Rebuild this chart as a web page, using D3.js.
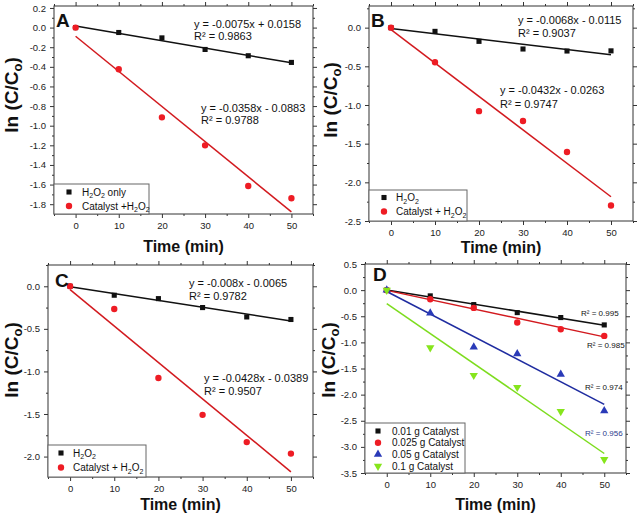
<!DOCTYPE html>
<html>
<head>
<meta charset="utf-8">
<script src="https://cdn.jsdelivr.net/npm/d3@7"></script>
<style>
  html, body { margin: 0; padding: 0; background: #fff; }
  svg { display: block; }
</style>
</head>
<body>
<script>
// ---------------- DATA ----------------
const timeMin = [0, 10, 20, 30, 40, 50];
const xTicks = [0, 10, 20, 30, 40, 50];

// Panel A
const panelA_H2O2 = [0.0, -0.05, -0.105, -0.223, -0.287, -0.355];
const panelA_Catalyst = [0.0, -0.425, -0.915, -1.20, -1.615, -1.74];
const fitSlopeA = [-0.0075, -0.0358];
const fitInterceptA = [0.0158, -0.0883];
const eqTextA = ["y = -0.0075x + 0.0158", "R² = 0.9863", "y = -0.0358x - 0.0883", "R² = 0.9788"];
const yTicksA = [0.2, 0.0, -0.2, -0.4, -0.6, -0.8, -1.0, -1.2, -1.4, -1.6, -1.8];

// Panel B
const panelB_H2O2 = [0.0, -0.048, -0.177, -0.276, -0.302, -0.30];
const panelB_Catalyst = [0.0, -0.448, -1.08, -1.207, -1.607, -2.30];
const fitSlopeB = [-0.0068, -0.0432];
const fitInterceptB = [-0.0115, -0.0263];
const eqTextB = ["y = -0.0068x - 0.0115", "R² = 0.9037", "y = -0.0432x - 0.0263", "R² = 0.9747"];
const yTicksB = [0.0, -0.5, -1.0, -1.5, -2.0, -2.5];

// Panel C
const panelC_H2O2 = [0.0, -0.105, -0.145, -0.25, -0.36, -0.39];
const panelC_Catalyst = [0.0, -0.266, -1.078, -1.51, -1.83, -1.965];
const fitSlopeC = [-0.008, -0.0428];
const fitInterceptC = [-0.0065, -0.0389];
const eqTextC = ["y = -0.008x - 0.0065", "R² = 0.9782", "y = -0.0428x - 0.0389", "R² = 0.9507"];
const yTicksC = [0.0, -0.5, -1.0, -1.5, -2.0];

// Panel D
const panelD_001 = [0.0, -0.11, -0.277, -0.43, -0.525, -0.666];
const panelD_0025 = [0.0, -0.175, -0.34, -0.62, -0.75, -0.876];
const panelD_005 = [0.0, -0.44, -1.09, -1.22, -1.61, -2.31];
const panelD_01 = [0.0, -1.10, -1.63, -1.86, -2.32, -3.24];
const fitSlopeD = [-0.0135, -0.0178, -0.0432, -0.0574];
const fitInterceptD = [0.003, -0.005, -0.0263, -0.2567];
const r2TextD = ["R² = 0.995", "R² = 0.985", "R² = 0.974", "R² = 0.956"];
const legendD = ["0.01 g Catalyst", "0.025 g Catalyst", "0.05 g Catalyst", "0.1 g Catalyst"];
const yTicksD = [0.5, 0.0, -0.5, -1.0, -1.5, -2.0, -2.5, -3.0, -3.5];

// ---------------- STYLE ----------------
const FONT = "Arial, 'Liberation Sans', Helvetica, sans-serif";
const C_BLACK = "#111111";
const C_RED_PT = "#ee1c24";
const C_RED_LN = "#d21a1f";
const C_BLUE_PT = "#2a3ab8";
const C_BLUE_LN = "#1f2ca0";
const C_GREEN_PT = "#86e51c";
const C_GREEN_LN = "#7ddc1e";

const svg = d3.select("body").append("svg")
  .attr("width", 643).attr("height", 521)
  .attr("font-family", FONT);

function fmt(d) { return (Math.abs(d) < 1e-9 ? 0 : d).toFixed(1); }

function drawPanel(p) {
  const g = svg.append("g");
  const x = d3.scaleLinear().domain([-5, 55]).range([p.left, p.right]);
  const y = d3.scaleLinear().domain(p.yDomain).range([p.bottom, p.top]);

  const xMinor = d3.range(-5, 55.01, 5).filter(v => v % 10 !== 0);
  const yMinor = [];
  for (let v = p.yDomain[0]; v <= p.yDomain[1] + 1e-9; v += p.yMinorStep) {
    const r = Math.round(v / p.yMinorStep) * p.yMinorStep;
    if (!p.yTicks.some(t => Math.abs(t - r) < 1e-6) && r >= p.yDomain[0] - 1e-9 && r <= p.yDomain[1] + 1e-9) yMinor.push(r);
  }
  const yMinorAll = d3.range(Math.ceil(p.yDomain[0] / p.yMinorStep), Math.floor(p.yDomain[1] / p.yMinorStep + 1e-9) + 1)
    .map(k => k * p.yMinorStep)
    .filter(v => !p.yTicks.some(t => Math.abs(t - v) < 1e-6));

  function styleAxis(sel) {
    sel.select(".domain").remove();
    sel.selectAll(".tick line").attr("stroke", "#333").attr("stroke-width", 1);
    sel.selectAll(".tick text").attr("fill", "#222").attr("font-size", "9.5px").attr("font-family", FONT);
  }

  // Major axes
  g.append("g").attr("transform", `translate(0,${p.bottom})`)
    .call(d3.axisBottom(x).tickValues(xTicks).tickSize(4).tickPadding(4).tickFormat(d3.format("d")))
    .call(styleAxis);
  g.append("g").attr("transform", `translate(0,${p.bottom})`)
    .call(d3.axisBottom(x).tickValues(xMinor).tickSize(2).tickFormat(""))
    .call(styleAxis);
  g.append("g").attr("transform", `translate(0,${p.top})`)
    .call(d3.axisTop(x).tickValues(xTicks).tickSize(4).tickFormat(""))
    .call(styleAxis);
  g.append("g").attr("transform", `translate(0,${p.top})`)
    .call(d3.axisTop(x).tickValues(xMinor).tickSize(2).tickFormat(""))
    .call(styleAxis);
  g.append("g").attr("transform", `translate(${p.left},0)`)
    .call(d3.axisLeft(y).tickValues(p.yTicks).tickSize(4).tickPadding(4).tickFormat(fmt))
    .call(styleAxis);
  g.append("g").attr("transform", `translate(${p.left},0)`)
    .call(d3.axisLeft(y).tickValues(yMinorAll).tickSize(2).tickFormat(""))
    .call(styleAxis);
  g.append("g").attr("transform", `translate(${p.right},0)`)
    .call(d3.axisRight(y).tickValues(p.yTicks).tickSize(4).tickFormat(""))
    .call(styleAxis);
  g.append("g").attr("transform", `translate(${p.right},0)`)
    .call(d3.axisRight(y).tickValues(yMinorAll).tickSize(2).tickFormat(""))
    .call(styleAxis);

  // Frame
  g.append("rect")
    .attr("x", p.left).attr("y", p.top)
    .attr("width", p.right - p.left).attr("height", p.bottom - p.top)
    .attr("fill", "none").attr("stroke", "#333").attr("stroke-width", 1);

  // Fit lines
  const line = d3.line().x(d => x(d[0])).y(d => y(d[1]));
  p.series.forEach((s, i) => {
    const pts = [0, 50].map(t => [t, p.slopes[i] * t + p.intercepts[i]]);
    g.append("path").datum(pts).attr("d", line)
      .attr("fill", "none").attr("stroke", s.lineColor).attr("stroke-width", 1.5);
  });

  // Points
  p.series.forEach((s, i) => {
    g.selectAll(null).data(timeMin.map((t, k) => [t, s.values[k]])).enter()
      .append("path")
      .attr("d", d3.symbol().type(s.symbol).size(s.size))
      .attr("transform", d => `translate(${x(d[0])},${y(d[1])})${s.rotate ? " rotate(180)" : ""}`)
      .attr("fill", s.color);
  });

  // Panel letter
  g.append("text").attr("x", p.letterX).attr("y", p.letterY)
    .attr("font-size", "19px").attr("font-weight", "bold").attr("fill", "#111")
    .text(p.letter);

  // Axis titles
  g.append("text")
    .attr("x", (p.left + p.right) / 2).attr("y", p.xTitleY)
    .attr("text-anchor", "middle").attr("font-size", "16px").attr("font-weight", "bold").attr("fill", "#111")
    .text("Time (min)");
  const yt = g.append("text")
    .attr("transform", `translate(${p.yTitleX},${p.yTitleCY}) rotate(-90)`)
    .attr("text-anchor", "middle").attr("font-size", "19px").attr("font-weight", "bold").attr("fill", "#111");
  yt.append("tspan").text("ln (C/C");
  yt.append("tspan").attr("font-size", "13px").attr("dy", 4).text("o");
  yt.append("tspan").attr("dy", -4).text(")");

  // Annotations
  p.annotations.forEach(a => {
    g.append("text").attr("x", a.x).attr("y", a.y)
      .attr("font-size", a.size).attr("fill", a.color || "#111").text(a.text);
  });

  // Legend
  const L = p.legend;
  g.append("rect").attr("x", L.x).attr("y", L.y).attr("width", L.w).attr("height", L.h)
    .attr("fill", "#fff").attr("stroke", "#666").attr("stroke-width", 1);
  p.series.forEach((s, i) => {
    const cy = L.y + L.first + i * L.step;
    g.append("path")
      .attr("d", d3.symbol().type(s.symbol).size(s.size))
      .attr("transform", `translate(${L.x + L.markerDx},${cy})${s.rotate ? " rotate(180)" : ""}`)
      .attr("fill", s.color);
    const t = g.append("text").attr("x", L.x + L.textDx).attr("y", cy + 3.5)
      .attr("font-size", "10px").attr("fill", "#111");
    s.label.forEach(part => {
      if (part.sub) t.append("tspan").attr("font-size", "7px").attr("dy", 2.5).text(part.t);
      else t.append("tspan").attr("dy", part.after ? -2.5 : 0).text(part.t);
    });
  });
}

const SQ = { symbol: d3.symbolSquare, size: 26 };
const CI = { symbol: d3.symbolCircle, size: 32 };

function h2o2Label(prefix, suffix) {
  const parts = [];
  if (prefix) parts.push({ t: prefix });
  parts.push({ t: "H", after: false });
  parts.push({ t: "2", sub: true });
  parts.push({ t: "O", after: true });
  parts.push({ t: "2", sub: true });
  if (suffix) parts.push({ t: suffix, after: true });
  return parts;
}

// ---------- Panel A ----------
drawPanel({
  left: 54, right: 313, top: 6, bottom: 214, yDomain: [-1.9, 0.22], yTicks: yTicksA, yMinorStep: 0.1,
  letter: "A", letterX: 56, letterY: 27, xTitleY: 252, yTitleX: 18, yTitleCY: 95,
  series: [
    { ...SQ, values: panelA_H2O2, color: C_BLACK, lineColor: C_BLACK, label: h2o2Label(null, " only") },
    { ...CI, values: panelA_Catalyst, color: C_RED_PT, lineColor: C_RED_LN, label: h2o2Label("Catalyst +", null) }
  ],
  slopes: fitSlopeA, intercepts: fitInterceptA,
  annotations: [
    { x: 194, y: 28, text: eqTextA[0], size: "11px" },
    { x: 194, y: 39.5, text: eqTextA[1], size: "11px" },
    { x: 201, y: 112, text: eqTextA[2], size: "11px" },
    { x: 201, y: 123.5, text: eqTextA[3], size: "11px" }
  ],
  legend: { x: 54, y: 184, w: 95, h: 30, first: 8, step: 14, markerDx: 15, textDx: 28 }
});

// ---------- Panel B ----------
drawPanel({
  left: 369, right: 633, top: 6, bottom: 221, yDomain: [-2.5, 0.28], yTicks: yTicksB, yMinorStep: 0.25,
  letter: "B", letterX: 371, letterY: 27, xTitleY: 253, yTitleX: 337, yTitleCY: 100,
  series: [
    { ...SQ, values: panelB_H2O2, color: C_BLACK, lineColor: C_BLACK, label: h2o2Label(null, null) },
    { ...CI, values: panelB_Catalyst, color: C_RED_PT, lineColor: C_RED_LN, label: h2o2Label("Catalyst + ", null) }
  ],
  slopes: fitSlopeB, intercepts: fitInterceptB,
  annotations: [
    { x: 518, y: 23.5, text: eqTextB[0], size: "11px" },
    { x: 518, y: 36.5, text: eqTextB[1], size: "11px" },
    { x: 500, y: 94, text: eqTextB[2], size: "11px" },
    { x: 500, y: 107.5, text: eqTextB[3], size: "11px" }
  ],
  legend: { x: 369, y: 190, w: 98, h: 31, first: 7.5, step: 14, markerDx: 15, textDx: 27 }
});

// ---------- Panel C ----------
drawPanel({
  left: 48, right: 313, top: 265, bottom: 477, yDomain: [-2.24, 0.25], yTicks: yTicksC, yMinorStep: 0.25,
  letter: "C", letterX: 55, letterY: 287, xTitleY: 510, yTitleX: 18, yTitleCY: 360,
  series: [
    { ...SQ, values: panelC_H2O2, color: C_BLACK, lineColor: C_BLACK, label: h2o2Label(null, null) },
    { ...CI, values: panelC_Catalyst, color: C_RED_PT, lineColor: C_RED_LN, label: h2o2Label("Catalyst + ", null) }
  ],
  slopes: fitSlopeC, intercepts: fitInterceptC,
  annotations: [
    { x: 189, y: 287, text: eqTextC[0], size: "11px" },
    { x: 189, y: 299.5, text: eqTextC[1], size: "11px" },
    { x: 204, y: 382, text: eqTextC[2], size: "11px" },
    { x: 204, y: 395, text: eqTextC[3], size: "11px" }
  ],
  legend: { x: 48, y: 445, w: 98, h: 32, first: 8, step: 14.5, markerDx: 13, textDx: 25 }
});

// ---------- Panel D ----------
drawPanel({
  left: 365, right: 626, top: 264, bottom: 473, yDomain: [-3.5, 0.5], yTicks: yTicksD, yMinorStep: 0.25,
  letter: "D", letterX: 373, letterY: 281, xTitleY: 510, yTitleX: 335, yTitleCY: 360,
  series: [
    { ...SQ, values: panelD_001, color: C_BLACK, lineColor: C_BLACK, label: [{ t: legendD[0] }] },
    { ...CI, values: panelD_0025, color: C_RED_PT, lineColor: C_RED_LN, label: [{ t: legendD[1] }] },
    { symbol: d3.symbolTriangle, size: 30, values: panelD_005, color: C_BLUE_PT, lineColor: C_BLUE_LN, label: [{ t: legendD[2] }] },
    { symbol: d3.symbolTriangle, size: 30, rotate: true, values: panelD_01, color: C_GREEN_PT, lineColor: C_GREEN_LN, label: [{ t: legendD[3] }] }
  ],
  slopes: fitSlopeD, intercepts: fitInterceptD,
  annotations: [
    { x: 581, y: 316, text: r2TextD[0], size: "8px" },
    { x: 587, y: 347.5, text: r2TextD[1], size: "8px" },
    { x: 585, y: 390, text: r2TextD[2], size: "8px" },
    { x: 585, y: 435.5, text: r2TextD[3], size: "8px", color: "#2b3a8c" }
  ],
  legend: { x: 365, y: 423, w: 100, h: 50, first: 8, step: 11.7, markerDx: 13, textDx: 27 }
});
</script>
</body>
</html>
